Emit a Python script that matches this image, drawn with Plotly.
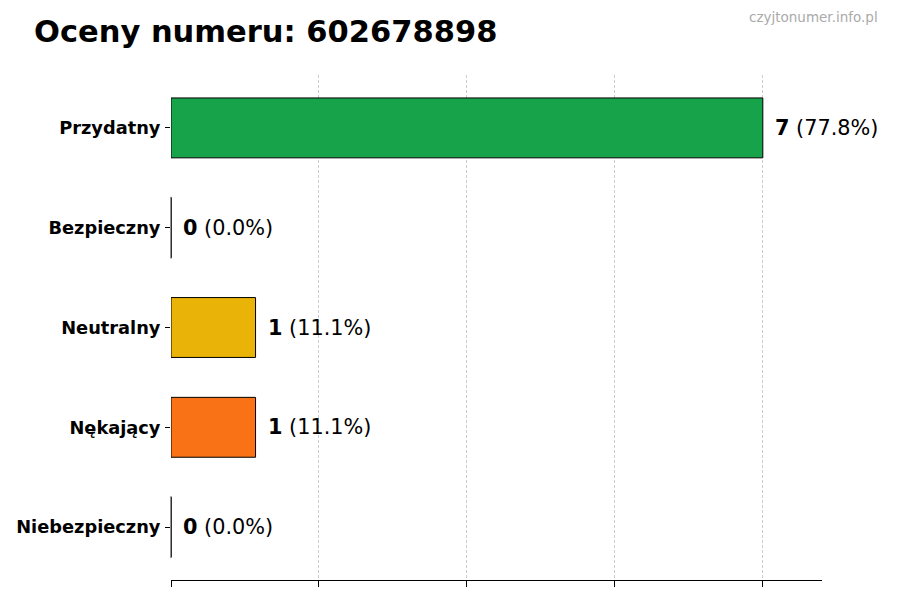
import plotly.graph_objects as go

categories = ["Przydatny", "Bezpieczny", "Neutralny", "Nękający", "Niebezpieczny"]
counts = [7, 0, 1, 1, 0]
colors = ["#16a34a", "#22c55e", "#eab308", "#f97316", "#dc2626"]
x_ticks = [0, 1.75, 3.5, 5.25, 7]
title_text = "Oceny numeru: 602678898"
watermark = "czyjtonumer.info.pl"

total = sum(counts)
font = "DejaVu Sans"

# page body has an 8px margin; compensate so the figure lands where the reference is
OFF = 8
W, H = 900 - OFF, 600 - OFF

fig = go.Figure()
fig.add_trace(go.Bar(
    x=counts, y=categories, orientation="h",
    marker=dict(color=colors, line=dict(color="black", width=1)),
    width=0.6, hoverinfo="skip",
))

zero_x = [c for c in counts if c == 0]
zero_y = [cat for cat, c in zip(categories, counts) if c == 0]
fig.add_trace(go.Scatter(
    x=zero_x, y=zero_y, mode="markers",
    marker=dict(symbol="line-ns-open", size=44, color="#222222",
                line=dict(color="#222222", width=1)),
    hoverinfo="skip", showlegend=False, cliponaxis=False,
))

for cat, c in zip(categories, counts):
    pct = 100 * c / total
    fig.add_annotation(
        x=c, y=cat, xref="x", yref="y",
        text=f"<b>{c}</b> ({pct:.1f}%)",
        showarrow=False, xanchor="left", yanchor="middle", xshift=10,
        font=dict(family=font, size=20.8, color="black"),
    )

pl, pr, pt, pb = 171 - OFF, 822 - OFF, 75 - OFF, 580 - OFF
fig.add_annotation(
    x=(880 - OFF - pl) / (pr - pl), y=(pb - (17 - OFF)) / (pb - pt),
    xref="paper", yref="paper",
    text=watermark, showarrow=False, xanchor="right", yanchor="middle",
    font=dict(family=font, size=13.5, color="#aaaaaa"),
)

fig.update_layout(
    width=W, height=H,
    paper_bgcolor="white", plot_bgcolor="white",
    margin=dict(l=pl, r=W - pr, t=pt, b=H - pb, pad=0, autoexpand=False),
    showlegend=False,
    title=dict(text=f"<b>{title_text}</b>", x=(34 - OFF) / W, xref="container", xanchor="left",
               y=1 - (31 - OFF) / H, yref="container", yanchor="middle",
               font=dict(family=font, size=30.5, color="black")),
    xaxis=dict(range=[0, 7.7], tickvals=x_ticks, showticklabels=False, automargin=False,
               ticks="outside", ticklen=6, tickcolor="black", tickwidth=1,
               showgrid=True, gridcolor="#cccccc", griddash="3px,2px", gridwidth=1,
               showline=True, linecolor="black", linewidth=1, zeroline=False),
    yaxis=dict(categoryorder="array", categoryarray=categories[::-1], automargin=False,
               range=[-0.53, 4.53], ticks="outside", ticklen=5, tickcolor="black",
               showgrid=False, zeroline=False, showline=False,
               tickfont=dict(family=font, size=17.8, color="black", weight="bold"),
               ticklabelstandoff=1),
)

fig.write_html("out.html")
